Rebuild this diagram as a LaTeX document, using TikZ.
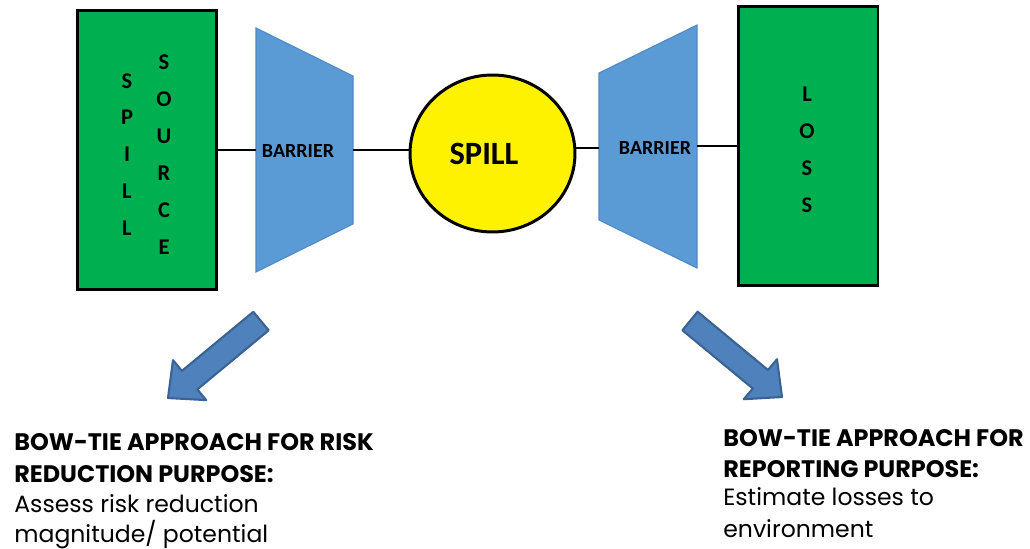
\documentclass[tikz,border=0pt]{standalone}
\usepackage{fontspec}
\setmainfont{Carlito}
\newfontfamily\gothic{Poppins}
\usetikzlibrary{shapes.geometric}

\definecolor{boxgreen}{HTML}{00B050}
\definecolor{barblue}{HTML}{5B9BD5}
\definecolor{barline}{HTML}{4F88C6}
\definecolor{arrowblue}{HTML}{4F81BD}
\definecolor{arrowline}{HTML}{3A6394}

\tikzset{
	srcbox/.style={draw=black, line width=1.7pt, fill=boxgreen, minimum width=2.8cm, minimum height=5.6cm, inner sep=0pt},
	letters/.style={font=\bfseries\fontsize{12.8}{21}\selectfont, align=center, inner sep=0pt},
	barrier/.style={fill=barblue, draw=barline, line width=0.6pt},
	bartext/.style={font=\bfseries\fontsize{11.4}{12}\selectfont, inner sep=0pt},
	spillball/.style={ellipse, draw=black, line width=1.7pt, fill=yellow, minimum width=3.3cm, minimum height=3.14cm, inner sep=0pt},
	link/.style={line width=1.2pt},
	bigarrow/.style={fill=arrowblue, draw=arrowline, line width=1.2pt, line join=round},
	notes/.style={anchor=base west, inner sep=0pt},
	head/.style={notes, font=\gothic\bfseries\fontsize{13.6}{13.6}\selectfont},
	body/.style={notes, font=\gothic\fontsize{13.4}{13.4}\selectfont}
}

\begin{document}
\begin{tikzpicture}[x=0.02cm, y=-0.02cm]
	\useasboundingbox (0,0) rectangle (1030,548);
	
	% left: source and first barrier
	\node[srcbox] (source) at (147,150) {};
	\node[letters] (spillword) at (127,154.5) {S\\P\\I\\L\\L};
	\node[letters] (sourceword) at (164,154.5) {S\\O\\U\\R\\C\\E};
	\draw[barrier] (256,28) -- (353,76) -- (353,224) -- (256,272) -- cycle;
	\coordinate (barL-in) at (256,150);
	\coordinate (barL-out) at (353,150);
	\node[bartext] (barL) at (298,151) {BARRIER};
	
	% centre
	\node[spillball] (spill) at (492.5,153.5) {};
	\node[font=\bfseries\fontsize{18.5}{22}\selectfont, inner sep=0pt] (spilltxt) at (484,154) {SPILL};
	
	% right: second barrier and loss
	\draw[barrier] (599,73) -- (697,25) -- (697,268) -- (599,220) -- cycle;
	\coordinate (barR-in) at (599,148);
	\coordinate (barR-out) at (697,146);
	\node[bartext] (barR) at (655,148) {BARRIER};
	\node[srcbox] (loss) at (808,146) {};
	\node[letters] (lossword) at (807,150) {L\\O\\S\\S};
	
	\draw[link] (source.east |- barL-in) -- (barL-in);
	\draw[link] (barL-out) -- (barL-out -| spill.west);
	\draw[link] (spill.east |- barR-in) -- (barR-in);
	\draw[link] (barR-out) -- (barR-out -| loss.west);
	
	% block arrows
	\draw[bigarrow] (253.3,311.8) -- (181.9,370.9) -- (173,360.1) -- (168,398) -- (206.2,400.1) -- (197.3,389.4) -- (268.7,330.3) -- cycle;
	\draw[bigarrow] (697.6,311.7) -- (768,370) -- (777,359.2) -- (782,397) -- (743.8,399.2) -- (752.8,388.5) -- (682.4,330.3) -- cycle;
	
	% captions, one node per line
	\node[head] (risk1) at (14,450) {BOW-TIE APPROACH FOR RISK};
	\node[head] (risk2) at (14,482) {REDUCTION PURPOSE:};
	\node[body] (risk3) at (14,512) {Assess risk reduction};
	\node[body] (risk4) at (14,542) {magnitude/ potential};
	
	\node[head] (report1) at (723,446) {BOW-TIE APPROACH FOR};
	\node[head] (report2) at (723,477) {REPORTING PURPOSE:};
	\node[body] (report3) at (723,505) {Estimate losses to};
	\node[body] (report4) at (723,537) {environment};
\end{tikzpicture}
\end{document}
